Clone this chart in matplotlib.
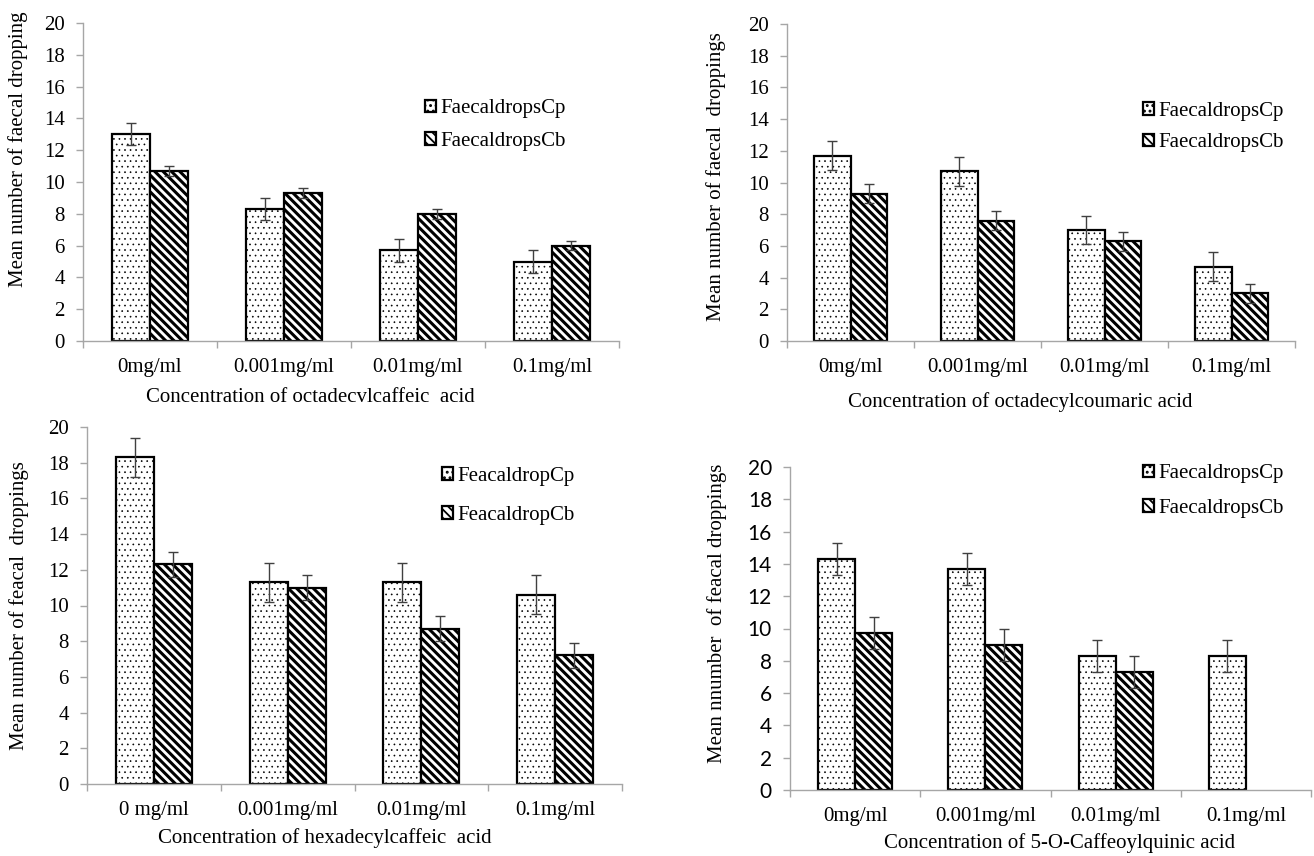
import numpy as np
import matplotlib
matplotlib.use("Agg")
import matplotlib.pyplot as plt

# datos
categorias = ["0mg/ml", "0.001mg/ml", "0.01mg/ml", "0.1mg/ml"]
categorias_c = ["0 mg/ml", "0.001mg/ml", "0.01mg/ml", "0.1mg/ml"]

cp_a = [13.0, 8.3, 5.7, 5.0]
cp_a_err = [0.7, 0.7, 0.7, 0.7]
cb_a = [10.7, 9.3, 8.0, 6.0]
cb_a_err = [0.3, 0.3, 0.3, 0.3]

cp_b = [11.7, 10.7, 7.0, 4.7]
cp_b_err = [0.9, 0.9, 0.9, 0.9]
cb_b = [9.3, 7.6, 6.3, 3.0]
cb_b_err = [0.6, 0.6, 0.6, 0.6]

cp_c = [18.3, 11.3, 11.3, 10.6]
cp_c_err = [1.1, 1.1, 1.1, 1.1]
cb_c = [12.3, 11.0, 8.7, 7.2]
cb_c_err = [0.7, 0.7, 0.7, 0.7]

cp_d = [14.3, 13.7, 8.3, 8.3]
cp_d_err = [1.0, 1.0, 1.0, 1.0]
cb_d = [9.7, 9.0, 7.3, np.nan]
cb_d_err = [1.0, 1.0, 1.0, np.nan]

plt.rcParams['font.family'] = ['Liberation Serif', 'DejaVu Serif']
plt.rcParams['hatch.linewidth'] = 1.3

W, H = 1314, 856
fig = plt.figure(figsize=(W / 100, H / 100), dpi=100)

GRIS = "#a6a6a6"
FS = 15


def panel(rect, cats, cp, cp_err, cb, cb_err, leg, ylabel, xlabel,
          ylab_pos, xlab_pos, leg_pos, leg_space, sans_ticks=False):
    l, t, r, b = rect
    ax = fig.add_axes([l / W, 1 - b / H, (r - l) / W, (b - t) / H])
    x = np.arange(len(cats))
    w = 0.285
    b1 = ax.bar(x - w / 2, cp, w, color="white", edgecolor="black",
                linewidth=1.6, hatch="...", label=leg[0], zorder=2)
    b2 = ax.bar(x + w / 2, cb, w, color="white", edgecolor="black",
                linewidth=1.6, hatch="\\\\\\\\", label=leg[1], zorder=2)
    for p in b2:
        if hasattr(p, "set_hatch_linewidth"):
            p.set_hatch_linewidth(2.2)
    for p in b1:
        if hasattr(p, "set_hatch_linewidth"):
            p.set_hatch_linewidth(0.45)
    ax.errorbar(x - w / 2, cp, yerr=cp_err, fmt="none", ecolor="#404040",
                elinewidth=1, capsize=3.5, capthick=1, zorder=3)
    ax.errorbar(x + w / 2, cb, yerr=cb_err, fmt="none", ecolor="#404040",
                elinewidth=1, capsize=3.5, capthick=1, zorder=3)

    ax.set_xlim(-0.5, len(cats) - 0.5)
    ax.set_ylim(0, 20)
    ax.set_yticks(range(0, 21, 2))
    ax.set_xticks(x)
    ax.set_xticklabels(cats, fontsize=FS)
    ax.set_xticks(np.arange(-0.5, len(cats), 1), minor=True)
    ax.tick_params(axis="x", which="major", length=0, pad=12)
    ax.tick_params(axis="x", which="minor", length=5, color=GRIS, width=1)
    ax.tick_params(axis="y", length=5, color=GRIS, width=1, pad=8)
    for lab in ax.get_yticklabels():
        lab.set_fontsize(FS)
        if sans_ticks:
            lab.set_family(["Lato", "DejaVu Sans"])
    for s in ["top", "right"]:
        ax.spines[s].set_visible(False)
    for s in ["left", "bottom"]:
        ax.spines[s].set_color(GRIS)
        ax.spines[s].set_linewidth(1)

    ax.set_ylabel(ylabel, fontsize=FS)
    ax.yaxis.set_label_coords((ylab_pos[0] - l) / (r - l),
                              (b - ylab_pos[1]) / (b - t))
    ax.set_xlabel(xlabel, fontsize=FS)
    ax.xaxis.set_label_coords((xlab_pos[0] - l) / (r - l),
                              (b - xlab_pos[1]) / (b - t))
    ax.xaxis.label.set_va("center")
    ax.yaxis.label.set_va("center")

    ax.legend(loc="center left", frameon=False, fontsize=FS,
              bbox_to_anchor=(leg_pos[0] / W, 1 - leg_pos[1] / H),
              bbox_transform=fig.transFigure, borderpad=0, borderaxespad=0,
              handlelength=0.55, handleheight=0.55, handletextpad=0.2,
              labelspacing=leg_space)
    return ax


panel((83, 23, 619, 341), categorias, cp_a, cp_a_err, cb_a, cb_a_err,
      ["FaecaldropsCp", "FaecaldropsCb"],
      "Mean number of faecal dropping",
      "Concentration of octadecvlcaffeic  acid",
      (18, 149), (310, 397), (425, 125), 0.65)

panel((787, 24, 1295, 341), categorias, cp_b, cp_b_err, cb_b, cb_b_err,
      ["FaecaldropsCp", "FaecaldropsCb"],
      "Mean number of faecal  droppings",
      "Concentration of octadecylcoumaric acid",
      (716, 177), (1020, 402), (1143, 127), 0.6)

panel((87, 427, 622, 784), categorias_c, cp_c, cp_c_err, cb_c, cb_c_err,
      ["FeacaldropCp", "FeacaldropCb"],
      "Mean number of feacal  droppings",
      "Concentration of hexadecylcaffeic  acid",
      (19, 606), (325, 838), (442, 496), 0.95)

panel((790, 467, 1311, 790), categorias, cp_d, cp_d_err, cb_d, cb_d_err,
      ["FaecaldropsCp", "FaecaldropsCb"],
      "Mean nnumber  of feacal droppings",
      "Concentration of 5-O-Caffeoylquinic acid",
      (717, 613), (1060, 843), (1143, 491), 0.75, sans_ticks=True)

plt.savefig("out.png", dpi=100)
plt.close()
